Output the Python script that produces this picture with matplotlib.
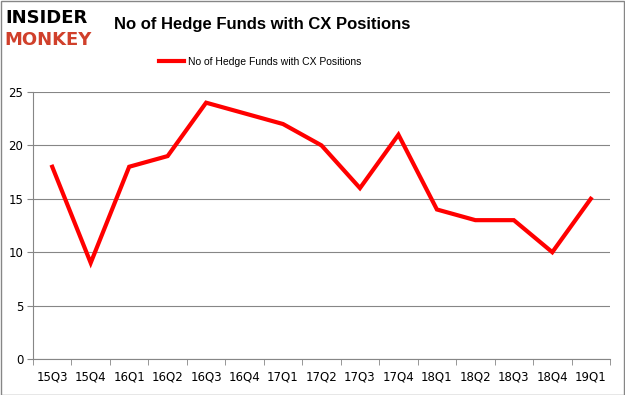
import matplotlib.pyplot as plt
import numpy as np

quarters = ["15Q3", "15Q4", "16Q1", "16Q2", "16Q3", "16Q4", "17Q1", "17Q2",
            "17Q3", "17Q4", "18Q1", "18Q2", "18Q3", "18Q4", "19Q1"]
funds = [18, 9, 18, 19, 24, 23, 22, 20, 16, 21, 14, 13, 13, 10, 15]
series_name = "No of Hedge Funds with CX Positions"

W, H = 625, 395
fig = plt.figure(figsize=(W / 100, H / 100), dpi=100)

# plot area in pixels
left, right, top, bottom = 33, 610, 92, 359
ax = fig.add_axes([left / W, 1 - bottom / H, (right - left) / W, (bottom - top) / H])

x = np.arange(len(quarters))
ax.plot(x, funds, color="#ff0000", linewidth=3, solid_joinstyle="miter",
        label=series_name)

ax.set_xlim(-0.5, len(quarters) - 0.5)
ax.set_ylim(0, 25)
ax.set_yticks([0, 5, 10, 15, 20, 25])
ax.set_xticks(x)
ax.set_xticklabels(quarters)
ax.set_xticks(np.arange(len(quarters) + 1) - 0.5, minor=True)
ax.tick_params(axis="x", which="major", length=0, pad=8, labelsize=8.5)
ax.tick_params(axis="x", which="minor", length=4, color="#868686")
ax.tick_params(axis="y", length=4, color="#868686", labelsize=8.5, pad=3)
ax.grid(axis="y", color="#868686", linewidth=0.8)
ax.set_axisbelow(True)
for s in ["top", "right"]:
    ax.spines[s].set_visible(False)
for s in ["left", "bottom"]:
    ax.spines[s].set_color("#868686")

# title
fig.text(262 / W, 1 - 25 / H, series_name, ha="center", va="center",
         fontsize=12, fontweight="bold", family="Liberation Sans")

# legend
fig.legend(loc="center", bbox_to_anchor=(260 / W, 1 - 62 / H), frameon=False,
           prop={"family": "Liberation Sans", "size": 7.5},
           handlelength=2.4, handletextpad=0.4)

# logo
fig.text(5 / W, 1 - 18 / H, "INSIDER", fontsize=13, fontweight="bold",
         color="black", va="center", ha="left", family="DejaVu Sans")
fig.text(4 / W, 1 - 40 / H, "MONKEY", fontsize=13, fontweight="bold",
         color="#d0402b", va="center", ha="left", family="DejaVu Sans")

# outer border
fig.patches.append(plt.Rectangle((0.5 / W, 0.5 / H), 1 - 1.5 / W, 1 - 1.5 / H,
                                 transform=fig.transFigure, fill=False,
                                 edgecolor="#868686", linewidth=1))

fig.savefig("out.png", dpi=100)
